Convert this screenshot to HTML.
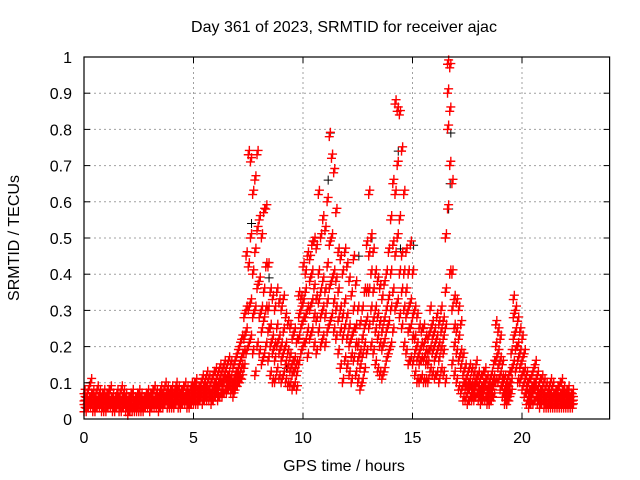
<!DOCTYPE html>
<html><head><meta charset="utf-8"><style>
body{margin:0;background:#fff}
svg{display:block;font-family:"Liberation Sans",sans-serif;font-size:16px}
</style></head><body>
<svg id="chart" width="640" height="480">
<rect width="640" height="480" fill="#fff"/>
<text x="344" y="32" text-anchor="middle">Day 361 of 2023, SRMTID for receiver ajac</text>
<text x="344" y="471" text-anchor="middle">GPS time / hours</text>
<text transform="translate(19,238) rotate(-90)" text-anchor="middle">SRMTID / TECUs</text>
<g id="grid"></g><g id="marks"></g><g id="axes"></g>
</svg>
<script>
const xTicks=[0,5,10,15,20];
const yTicks=[0,0.1,0.2,0.3,0.4,0.5,0.6,0.7,0.8,0.9,1];
const yTickLabels=["0","0.1","0.2","0.3","0.4","0.5","0.6","0.7","0.8","0.9","1"];
const timeStep=0.1;
const hiVals=[.07,.06,.08,.10,.07,.06,.08,.07,.06,.07,.06,.07,.08,.06,.05,.07,.06,.08,.07,.06,.05,.06,.07,.05,.06,.07,.06,.05,.06,.07,.06,.07,.08,.07,.06,.08,.07,.09,.08,.07,.08,.07,.09,.08,.07,.08,.09,.08,.07,.09,.09,.10,.08,.09,.11,.10,.12,.11,.10,.12,.13,.12,.14,.13,.15,.14,.16,.15,.14,.16,.18,.20,.22,.28,.45,.73,.71,.62,.66,.73,.55,.50,.57,.58,.42,.35,.33,.30,.35,.32,.30,.33,.28,.26,.25,.22,.24,.21,.34,.33,.42,.40,.45,.44,.48,.49,.47,.62,.50,.55,.52,.60,.78,.72,.68,.57,.46,.44,.40,.46,.42,.38,.34,.44,.37,.30,.26,.30,.35,.48,.62,.50,.46,.40,.38,.36,.33,.37,.40,.46,.55,.65,.87,.85,.84,.74,.62,.46,.40,.48,.40,.30,.28,.25,.24,.25,.22,.22,.30,.26,.24,.28,.26,.30,.27,.50,.98,.97,.65,.33,.32,.30,.26,.17,.14,.12,.14,.13,.12,.15,.12,.11,.12,.13,.11,.10,.12,.15,.26,.24,.22,.15,.11,.10,.12,.18,.33,.30,.27,.24,.22,.18,.12,.10,.11,.13,.15,.12,.10,.11,.10,.09,.08,.10,.09,.07,.08,.09,.10,.08,.07,.08,.06,.07];
const mid1Vals=[.05,.04,.05,.06,.05,.04,.05,.05,.04,.05,.04,.05,.05,.04,.04,.05,.04,.05,.05,.04,.03,.04,.05,.04,.04,.05,.04,.04,.05,.05,.04,.05,.05,.05,.04,.06,.05,.06,.06,.05,.06,.05,.07,.06,.05,.06,.06,.06,.05,.07,.07,.08,.06,.07,.08,.08,.09,.08,.07,.09,.10,.09,.11,.10,.12,.11,.12,.11,.10,.12,.13,.15,.17,.22,.30,.42,.50,.40,.46,.52,.38,.30,.35,.42,.30,.25,.22,.20,.25,.22,.20,.24,.20,.18,.17,.15,.16,.15,.28,.30,.32,.35,.30,.38,.40,.36,.33,.40,.35,.38,.35,.42,.48,.50,.40,.38,.35,.30,.28,.32,.28,.25,.22,.30,.25,.20,.18,.22,.25,.35,.45,.40,.35,.30,.28,.26,.24,.27,.30,.33,.40,.48,.62,.70,.55,.45,.40,.35,.30,.32,.28,.22,.20,.18,.20,.20,.18,.18,.24,.22,.20,.22,.20,.24,.22,.35,.90,.85,.40,.25,.24,.22,.18,.12,.10,.09,.10,.09,.09,.11,.09,.08,.09,.10,.08,.08,.09,.11,.20,.18,.16,.11,.08,.08,.09,.13,.28,.24,.20,.18,.16,.13,.09,.07,.08,.09,.10,.08,.07,.08,.07,.06,.06,.07,.06,.05,.06,.06,.07,.06,.05,.06,.05,.05];
const mid2Vals=[.04,.03,.04,.05,.04,.03,.04,.04,.03,.04,.03,.04,.04,.03,.03,.04,.03,.04,.04,.03,.02,.03,.03,.03,.03,.04,.03,.03,.04,.04,.03,.04,.04,.04,.03,.05,.04,.05,.05,.04,.05,.04,.05,.05,.04,.05,.05,.05,.04,.05,.05,.06,.05,.06,.06,.07,.07,.07,.06,.07,.08,.07,.09,.08,.10,.09,.10,.09,.08,.10,.11,.12,.14,.18,.24,.30,.32,.28,.30,.36,.28,.24,.27,.30,.24,.20,.18,.16,.20,.18,.16,.18,.15,.14,.13,.12,.13,.12,.22,.25,.27,.28,.24,.30,.32,.28,.27,.32,.28,.30,.28,.32,.36,.38,.32,.30,.27,.24,.22,.25,.22,.20,.17,.24,.20,.16,.14,.17,.20,.27,.35,.30,.27,.24,.22,.20,.19,.21,.24,.26,.30,.35,.45,.50,.40,.35,.30,.28,.24,.25,.22,.18,.16,.15,.16,.16,.15,.15,.19,.18,.16,.18,.16,.19,.18,.25,.80,.70,.30,.20,.18,.16,.14,.09,.08,.07,.08,.07,.07,.09,.07,.06,.07,.08,.06,.06,.07,.09,.16,.14,.12,.09,.06,.06,.07,.10,.22,.19,.16,.14,.12,.10,.07,.05,.06,.07,.08,.06,.05,.06,.05,.05,.04,.05,.05,.04,.05,.05,.05,.05,.04,.05,.04,.04];
const loVals=[.02,.02,.03,.03,.02,.02,.03,.03,.02,.02,.02,.03,.03,.02,.02,.03,.02,.02,.03,.02,.01,.02,.02,.02,.02,.02,.02,.02,.03,.03,.02,.03,.03,.03,.02,.03,.03,.04,.03,.03,.03,.03,.04,.03,.03,.04,.04,.03,.03,.04,.04,.04,.04,.05,.04,.05,.05,.05,.04,.05,.06,.05,.06,.06,.07,.07,.08,.07,.06,.08,.09,.10,.11,.14,.18,.20,.22,.18,.12,.20,.18,.15,.17,.20,.16,.12,.10,.10,.13,.11,.10,.12,.10,.09,.09,.08,.09,.08,.15,.18,.20,.21,.17,.22,.24,.20,.18,.24,.20,.22,.20,.24,.26,.28,.24,.22,.18,.14,.10,.16,.14,.12,.10,.16,.12,.10,.08,.10,.13,.18,.25,.20,.18,.15,.13,.12,.11,.13,.16,.18,.20,.24,.30,.32,.28,.25,.20,.18,.15,.16,.15,.12,.10,.10,.11,.10,.10,.10,.13,.12,.11,.12,.10,.13,.12,.10,.58,.40,.15,.12,.10,.08,.07,.05,.05,.04,.05,.05,.05,.06,.05,.04,.05,.05,.04,.04,.05,.06,.10,.10,.08,.06,.04,.04,.05,.07,.15,.13,.10,.10,.08,.06,.04,.03,.04,.04,.05,.04,.03,.04,.03,.03,.03,.03,.03,.03,.03,.03,.03,.03,.03,.03,.03,.03];
const blackTimes=[7.65,8.45,11.25,11.15,13.15,14.35,14.45,15.05,16.75,16.72,16.65,12.55,9.25];
const blackVals=[.54,.39,.79,.66,.50,.74,.47,.48,.79,.65,.58,.45,.14];

const L=84,R=609.6,T=57,B=419;
const xS=t=>L+(t/24)*(R-L);
const yS=v=>B-v*(B-T);
const NS="http://www.w3.org/2000/svg";
const grid=document.getElementById('grid'),axes=document.getElementById('axes'),marks=document.getElementById('marks');
function mk(tag,attrs,parent){const e=document.createElementNS(NS,tag);for(const k in attrs)e.setAttribute(k,attrs[k]);parent.appendChild(e);return e;}
xTicks.forEach(t=>{
  const x=xS(t);
  if(t>0){const g=mk('line',{x1:x,x2:x,y1:T,y2:B,stroke:'#a0a0a0','stroke-dasharray':'2,3'},grid);
  
  }
  const a=mk('line',{x1:x,x2:x,y1:B,y2:B-6,stroke:'#000'},axes);
  
  
  const b=mk('line',{x1:x,x2:x,y1:T,y2:T+6,stroke:'#000'},axes);
  
  
  const l=mk('text',{x:x,y:B+24,'text-anchor':'middle'},axes);l.textContent=String(t);
  
  
});
yTicks.forEach((v,i)=>{
  const y=yS(v);
  if(v>0&&v<1){const g=mk('line',{x1:L,x2:R,y1:y,y2:y,stroke:'#a0a0a0','stroke-dasharray':'2,3'},grid);
  
  }
  const a=mk('line',{x1:L,x2:L+6,y1:y,y2:y,stroke:'#000'},axes);
  
  
  const b=mk('line',{x1:R,x2:R-6,y1:y,y2:y,stroke:'#000'},axes);
  
  
  const l=mk('text',{x:L-12,y:y+6,'text-anchor':'end'},axes);l.textContent=yTickLabels[i];
  
  
});
const frame=mk('rect',{x:L,y:T,width:R-L,height:B-T,fill:'none',stroke:'#000','stroke-width':1.2},axes);


function plus(t,v,color,name,w){
  const x=xS(t),y=yS(v);
  const p=mk('path',{d:`M${x-4.5},${y}h9M${x},${y-4.5}v9`,stroke:color,'stroke-width':w,fill:'none'},marks);
  
  
}
blackTimes.forEach((t,i)=>plus(t,blackVals[i],'#000','black-point',1));
[hiVals,mid1Vals,mid2Vals,loVals].forEach(arr=>arr.forEach((v,i)=>{
  plus(i*timeStep,v,'#ff0000','red-point',1.4);
  plus(i*timeStep+timeStep/2,v+0.012,'#ff0000','red-point',1.4);
}));
</script>
</body></html>
